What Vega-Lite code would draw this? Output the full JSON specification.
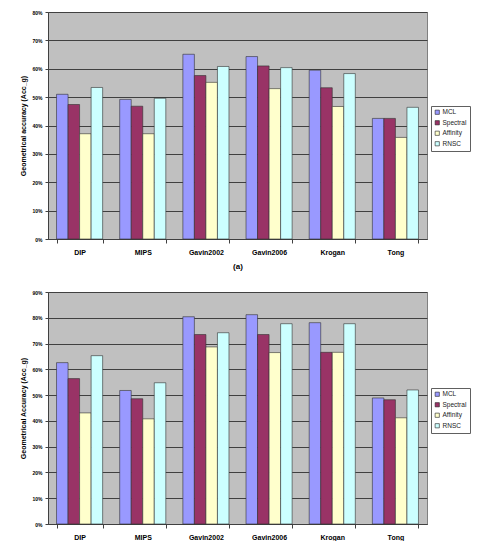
{
  "$schema": "https://vega.github.io/schema/vega-lite/v6.json",
  "padding": {"top": 9, "left": 19, "right": 0, "bottom": 0},
  "background": "white",
  "datasets": {
    "a": [
      {"db": "DIP", "method": "MCL", "value": 51.0},
      {"db": "DIP", "method": "Spectral", "value": 47.4},
      {"db": "DIP", "method": "Affinity", "value": 37.1},
      {"db": "DIP", "method": "RNSC", "value": 53.4},
      {"db": "MIPS", "method": "MCL", "value": 49.2},
      {"db": "MIPS", "method": "Spectral", "value": 46.8},
      {"db": "MIPS", "method": "Affinity", "value": 37.1},
      {"db": "MIPS", "method": "RNSC", "value": 49.6},
      {"db": "Gavin2002", "method": "MCL", "value": 65.1},
      {"db": "Gavin2002", "method": "Spectral", "value": 57.6},
      {"db": "Gavin2002", "method": "Affinity", "value": 55.2},
      {"db": "Gavin2002", "method": "RNSC", "value": 60.8},
      {"db": "Gavin2006", "method": "MCL", "value": 64.3},
      {"db": "Gavin2006", "method": "Spectral", "value": 61.0},
      {"db": "Gavin2006", "method": "Affinity", "value": 53.0},
      {"db": "Gavin2006", "method": "RNSC", "value": 60.4},
      {"db": "Krogan", "method": "MCL", "value": 59.5},
      {"db": "Krogan", "method": "Spectral", "value": 53.3},
      {"db": "Krogan", "method": "Affinity", "value": 46.7},
      {"db": "Krogan", "method": "RNSC", "value": 58.3},
      {"db": "Tong", "method": "MCL", "value": 42.5},
      {"db": "Tong", "method": "Spectral", "value": 42.5},
      {"db": "Tong", "method": "Affinity", "value": 35.8},
      {"db": "Tong", "method": "RNSC", "value": 46.4}
    ],
    "b": [
      {"db": "DIP", "method": "MCL", "value": 62.6},
      {"db": "DIP", "method": "Spectral", "value": 56.4},
      {"db": "DIP", "method": "Affinity", "value": 43.1},
      {"db": "DIP", "method": "RNSC", "value": 65.3},
      {"db": "MIPS", "method": "MCL", "value": 51.8},
      {"db": "MIPS", "method": "Spectral", "value": 48.6},
      {"db": "MIPS", "method": "Affinity", "value": 40.8},
      {"db": "MIPS", "method": "RNSC", "value": 54.8},
      {"db": "Gavin2002", "method": "MCL", "value": 80.4},
      {"db": "Gavin2002", "method": "Spectral", "value": 73.5},
      {"db": "Gavin2002", "method": "Affinity", "value": 68.7},
      {"db": "Gavin2002", "method": "RNSC", "value": 74.2},
      {"db": "Gavin2006", "method": "MCL", "value": 81.2},
      {"db": "Gavin2006", "method": "Spectral", "value": 73.5},
      {"db": "Gavin2006", "method": "Affinity", "value": 66.5},
      {"db": "Gavin2006", "method": "RNSC", "value": 77.7},
      {"db": "Krogan", "method": "MCL", "value": 78.1},
      {"db": "Krogan", "method": "Spectral", "value": 66.6},
      {"db": "Krogan", "method": "Affinity", "value": 66.6},
      {"db": "Krogan", "method": "RNSC", "value": 77.7},
      {"db": "Tong", "method": "MCL", "value": 48.9},
      {"db": "Tong", "method": "Spectral", "value": 48.2},
      {"db": "Tong", "method": "Affinity", "value": 41.2},
      {"db": "Tong", "method": "RNSC", "value": 52.0}
    ]
  },
  "config": {
    "font": "Liberation Sans",
    "view": {"fill": "#C0C0C0", "stroke": "#808080", "strokeWidth": 1},
    "axis": {
      "labelFont": "Liberation Sans",
      "titleFont": "Liberation Sans",
      "labelColor": "black",
      "titleColor": "black",
      "domainColor": "#404040",
      "tickColor": "#404040",
      "gridColor": "#404040",
      "gridWidth": 1
    },
    "legend": {
      "orient": "none",
      "labelFont": "Liberation Sans",
      "labelFontSize": 6.5,
      "labelColor": "#222",
      "symbolType": "square",
      "symbolSize": 18,
      "symbolStrokeColor": "#222",
      "symbolStrokeWidth": 0.6,
      "rowPadding": 2.5,
      "padding": 3,
      "strokeColor": "#606060",
      "fillColor": "white",
      "labelOffset": 2
    },
    "bar": {"stroke": "#303030", "strokeWidth": 0.6}
  },
  "spacing": 18,
  "resolve": {"legend": {"color": "independent"}, "scale": {"color": "independent"}},
  "vconcat": [
    {
      "data": {"name": "a"},
      "width": 379,
      "height": 227,
      "mark": "bar",
      "encoding": {
        "x": {
          "field": "db", "type": "nominal",
          "sort": ["DIP", "MIPS", "Gavin2002", "Gavin2006", "Krogan", "Tong"],
          "scale": {"paddingInner": 0.27, "paddingOuter": 0.135},
          "axis": {"title": "(a)", "titleFontSize": 8, "titleFontWeight": "bold", "titlePadding": 7,
                   "labelAngle": 0, "labelFontSize": 7, "labelFontWeight": "bold", "labelPadding": 5,
                   "tickBand": "extent", "tickSize": 4, "grid": false}
        },
        "xOffset": {"field": "method", "type": "nominal", "sort": ["MCL", "Spectral", "Affinity", "RNSC"]},
        "y": {
          "field": "value", "type": "quantitative",
          "scale": {"domain": [0, 80], "nice": false},
          "axis": {"title": "Geometrical accuracy (Acc_g)", "titleFontSize": 7, "titleFontWeight": "bold", "titlePadding": 5,
                   "values": [0, 10, 20, 30, 40, 50, 60, 70, 80], "labelExpr": "datum.value + '%'",
                   "labelFontSize": 5, "labelFontWeight": "bold", "tickSize": 3, "labelPadding": 3, "grid": true}
        },
        "color": {
          "field": "method", "type": "nominal",
          "sort": ["MCL", "Spectral", "Affinity", "RNSC"],
          "scale": {"domain": ["MCL", "Spectral", "Affinity", "RNSC"], "range": ["#9999FF", "#993366", "#FFFFCC", "#CCFFFF"]},
          "legend": {"title": null, "legendX": 383, "legendY": 94}
        }
      }
    },
    {
      "data": {"name": "b"},
      "width": 379,
      "height": 232,
      "mark": "bar",
      "encoding": {
        "x": {
          "field": "db", "type": "nominal",
          "sort": ["DIP", "MIPS", "Gavin2002", "Gavin2006", "Krogan", "Tong"],
          "scale": {"paddingInner": 0.27, "paddingOuter": 0.135},
          "axis": {"title": null,
                   "labelAngle": 0, "labelFontSize": 7, "labelFontWeight": "bold", "labelPadding": 5,
                   "tickBand": "extent", "tickSize": 4, "grid": false}
        },
        "xOffset": {"field": "method", "type": "nominal", "sort": ["MCL", "Spectral", "Affinity", "RNSC"]},
        "y": {
          "field": "value", "type": "quantitative",
          "scale": {"domain": [0, 90], "nice": false},
          "axis": {"title": "Geometrical Accuracy (Acc_g)", "titleFontSize": 7, "titleFontWeight": "bold", "titlePadding": 5,
                   "values": [0, 10, 20, 30, 40, 50, 60, 70, 80, 90], "labelExpr": "datum.value + '%'",
                   "labelFontSize": 5, "labelFontWeight": "bold", "tickSize": 3, "labelPadding": 3, "grid": true}
        },
        "color": {
          "field": "method", "type": "nominal",
          "sort": ["MCL", "Spectral", "Affinity", "RNSC"],
          "scale": {"domain": ["MCL", "Spectral", "Affinity", "RNSC"], "range": ["#9999FF", "#993366", "#FFFFCC", "#CCFFFF"]},
          "legend": {"title": null, "legendX": 383, "legendY": 96}
        }
      }
    }
  ]
}
